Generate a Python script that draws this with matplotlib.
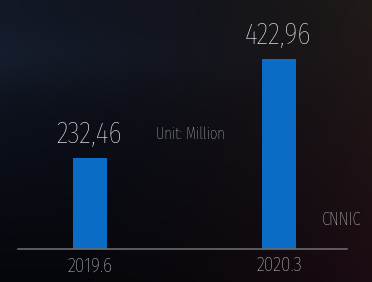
import numpy as np
import matplotlib
matplotlib.use('Agg')
import matplotlib.pyplot as plt

# Datos
periods = ['2019.6', '2020.3']
users = [232.46, 422.96]
value_labels = ['232,46', '422,96']

plt.rcParams['font.family'] = ['Fira Sans Extra Condensed', 'DejaVu Sans']
plt.rcParams['font.weight'] = 'light'

fig = plt.figure(figsize=(3.72, 2.82), dpi=100)

# Fondo degradado oscuro
bg = fig.add_axes([0, 0, 1, 1])
h, w = 141, 186
yy, xx = np.mgrid[0:1:h * 1j, 0:1:w * 1j]
navy = np.array([0.07, 0.09, 0.14])
dark = np.array([0.03, 0.04, 0.07])
red = np.array([0.09, 0.02, 0.03])
brown = np.array([0.11, 0.08, 0.05])
img = navy * (1 - xx)[..., None] * (1 - yy)[..., None] * 0.8 \
    + dark * np.ones_like(xx)[..., None] * 0.6
img = img + red * (xx ** 2 * yy)[..., None] + brown * (xx ** 2 * (1 - yy))[..., None]
img = img + np.array([0.02, 0.03, 0.04]) * np.exp(-((yy - 0.2) / 0.12) ** 2)[..., None] * (1 - xx)[..., None]
bg.imshow(np.clip(img, 0, 1), aspect='auto', extent=[0, 1, 0, 1], origin='upper')
bg.axis('off')

ax = fig.add_axes([18 / 372, 33 / 282, 329 / 372, 249 / 282])
ax.patch.set_alpha(0)
x = np.arange(len(periods))
bars = ax.bar(x, users, width=0.18, color='#0a6cc4')

for xi, v, lab in zip(x, users, value_labels):
    ax.annotate(lab, (xi, v), xytext=(-1, 11), textcoords='offset points',
                ha='center', va='baseline', color='#f4f4f4', fontsize=22)

ax.set_xlim(-0.381, 1.36)
ax.set_ylim(57.4, 536.5)
ax.set_xticks(x)
ax.set_xticklabels(periods, color='#e0e0e0', fontsize=15)
ax.tick_params(axis='x', length=0, pad=5)
ax.set_yticks([])
for s in ['top', 'right', 'left']:
    ax.spines[s].set_visible(False)
ax.spines['bottom'].set_color('#6a6a6a')
ax.spines['bottom'].set_linewidth(1.2)

fig.text(190 / 372, 1 - 134 / 282, 'Unit: Million', color='#d0d4dc', fontsize=11.5,
         ha='center', va='center')
fig.text(342 / 372, 1 - 220 / 282, 'CNNIC', color='#e0e0e0', fontsize=13,
         ha='center', va='center')

fig.savefig('out.png', dpi=100)
